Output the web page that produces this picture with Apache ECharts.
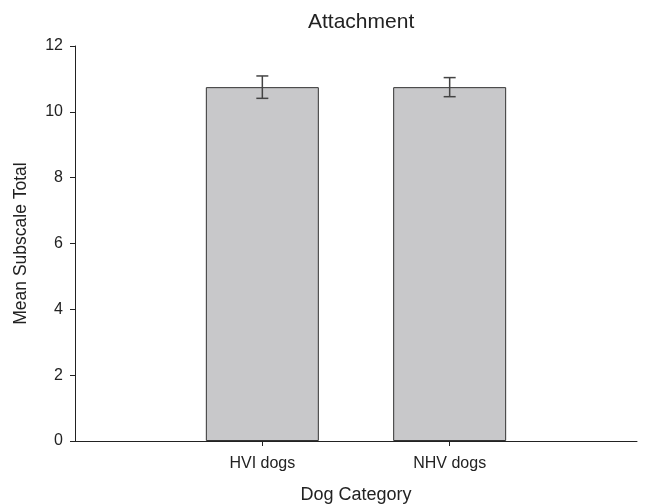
<!DOCTYPE html>
<html>
<head>
<meta charset="utf-8">
<style>html,body{margin:0;padding:0;background:#fff}#chart{width:645px;height:504px}</style>
<script src="https://cdn.jsdelivr.net/npm/echarts@6/dist/echarts.min.js"></script>
</head>
<body>
<div id="chart"></div>
<script>
// Attachment subscale: mean total per dog group with standard error
const categories = ['HVI dogs', 'NHV dogs'];
const means = [10.75, 10.75];
const errors = [0.34, 0.29];
const yTicks = [0, 2, 4, 6, 8, 10, 12];

const font = 'Liberation Sans, Arial, sans-serif';
const chart = echarts.init(document.getElementById('chart'));

const barData = categories.map((c, i) => [i + 1, means[i]]);
const errData = categories.map((c, i) => [i + 1, means[i] - errors[i], means[i] + errors[i]]);

chart.setOption({
  animation: false,
  title: {
    text: 'Attachment', left: 303, top: 7,
    textStyle: { fontFamily: font, fontSize: 21, fontWeight: 'normal', color: '#222' }
  },
  grid: { left: 75, right: 8, top: 46, bottom: 63, outerBoundsMode: 'none' },
  xAxis: {
    type: 'value', min: 0, max: categories.length + 1, interval: 1,
    name: 'Dog Category', nameLocation: 'middle', nameGap: 45.5,
    nameTextStyle: { fontFamily: font, fontSize: 18, color: '#222' },
    axisLine: { lineStyle: { color: '#222', width: 1 } },
    axisTick: { show: true, customValues: categories.map((c, i) => i + 1), length: 5, lineStyle: { color: '#222' } },
    axisLabel: {
      customValues: categories.map((c, i) => i + 1),
      formatter: v => categories[v - 1] || '',
      fontFamily: font, fontSize: 16, color: '#222', margin: 14.5
    },
    splitLine: { show: false }
  },
  yAxis: {
    type: 'value', min: yTicks[0], max: yTicks[yTicks.length - 1], interval: 2,
    name: 'Mean Subscale Total', nameLocation: 'middle', nameGap: 45,
    nameTextStyle: { fontFamily: font, fontSize: 17.5, color: '#222' },
    axisLine: { show: true, lineStyle: { color: '#222', width: 1 } },
    axisTick: { show: true, length: 5, lineStyle: { color: '#222' } },
    axisLabel: { fontFamily: font, fontSize: 16, color: '#222', margin: 12 },
    splitLine: { show: false }
  },
  series: [
    {
      type: 'bar', data: barData, barWidth: 113,
      itemStyle: { color: '#c8c8ca', borderColor: '#333', borderWidth: 1 }
    },
    {
      type: 'custom', data: errData,
      renderItem: (params, api) => {
        const x = api.value(0);
        const lo = api.coord([x, api.value(1)]);
        const hi = api.coord([x, api.value(2)]);
        const half = 6;
        const style = { stroke: '#444', lineWidth: 1.5 };
        return {
          type: 'group',
          children: [
            { type: 'line', shape: { x1: hi[0], y1: hi[1], x2: lo[0], y2: lo[1] }, style },
            { type: 'line', shape: { x1: hi[0] - half, y1: hi[1], x2: hi[0] + half, y2: hi[1] }, style },
            { type: 'line', shape: { x1: lo[0] - half, y1: lo[1], x2: lo[0] + half, y2: lo[1] }, style }
          ]
        };
      },
      z: 5
    }
  ]
});
</script>
</body>
</html>
